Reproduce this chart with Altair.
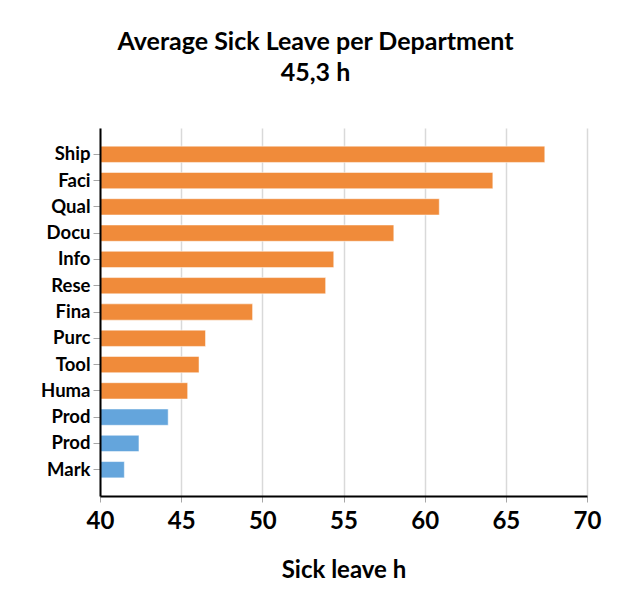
import altair as alt
import pandas as pd

departments = ["Ship", "Faci", "Qual", "Docu", "Info", "Rese", "Fina",
               "Purc", "Tool", "Huma", "Prod", "Prod", "Mark"]
hours = [67.4, 64.2, 60.9, 58.1, 54.4, 53.9, 49.4,
         46.5, 46.1, 45.4, 44.2, 42.4, 41.5]
average = 45.3
x_ticks = [40, 45, 50, 55, 60, 65, 70]

df = pd.DataFrame({
    "key": [f"{i:02d}|{d}" for i, d in enumerate(departments)],
    "hours": hours,
})

FONT = "Lato"

bars = alt.Chart(df).mark_bar(
    stroke="#ffffff", strokeOpacity=0.5, strokeWidth=1
).encode(
    x=alt.X("hours:Q",
            scale=alt.Scale(domain=[40, 70], zero=False, nice=False),
            axis=alt.Axis(values=x_ticks, title="Sick leave h",
                          labelFontSize=24, labelFontWeight="bold", labelColor="black",
                          labelPadding=7, labelFlush=False,
                          titleFontSize=24, titleFontWeight="bold",
                          titleColor="black", titlePadding=25,
                          grid=True, gridColor="#d9d9d9", gridWidth=1.5,
                          domainColor="black", domainWidth=2,
                          tickColor="#a6a6a6", tickSize=6, tickWidth=1)),
    x2=alt.datum(40),
    y=alt.Y("key:N", sort="ascending",
            scale=alt.Scale(paddingInner=0.38, paddingOuter=0.69),
            axis=alt.Axis(title=None, labelExpr="split(datum.value, '|')[1]",
                          labelFontSize=18.5, labelFontWeight="bold", labelColor="black",
                          labelPadding=3, bandPosition=0.5, zindex=2,
                          domainColor="black", domainWidth=2,
                          tickColor="#a6a6a6", tickSize=7, tickWidth=1, grid=False)),
    color=alt.condition(alt.datum.hours > average,
                        alt.value("#F08B3A"), alt.value("#64A5DC")),
)

chart = bars.properties(
    width=487, height=368,
    padding={"left": 92, "top": 120, "right": 30, "bottom": 110},
    autosize=alt.AutoSizeParams(type="none"),
    title=alt.TitleParams(
        text="Average Sick Leave per Department",
        subtitle="45,3 h",
        anchor="middle", dx=-28,
        font=FONT, fontSize=25, fontWeight="bold", color="black",
        subtitleFont=FONT, subtitleFontSize=25, subtitleFontWeight="bold",
        subtitleColor="black", subtitlePadding=6, offset=42,
    ),
).configure(font=FONT).configure_view(stroke=None)

chart.save("out.html", embed_options={"renderer": "svg", "actions": False})
